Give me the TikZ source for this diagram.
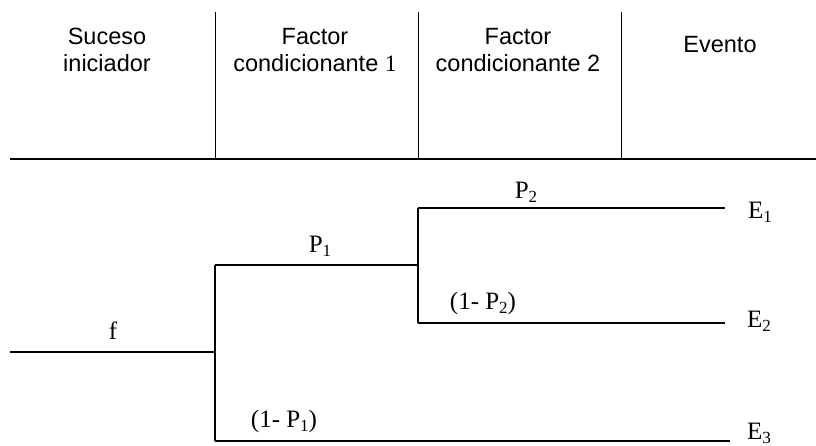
\documentclass[tikz,border=0pt]{standalone}
\usepackage{fontspec}
\setmainfont{Liberation Serif}
\setsansfont{Liberation Sans}
\usepackage{tikz}

\newcommand{\idx}[1]{\raisebox{-0.35ex}{\fontsize{17}{17}\selectfont #1}}

\tikzset{
  col/.style={font=\sffamily\fontsize{23.5}{27}\selectfont, align=center, inner sep=0pt},
  lbl/.style={font=\rmfamily\fontsize{25}{27}\selectfont, inner sep=0pt},
  branch/.style={line width=1.6pt},
}

\begin{document}
\begin{tikzpicture}[x=1pt,y=-1pt]
        \useasboundingbox (0,0) rectangle (816,446);

        % Header
        \node[col] (hsuc) at (107,50) {Suceso\\iniciador};
        \node[col] (hfc1) at (315,50) {Factor\\condicionante {\rmfamily 1}};
        \node[col] (hfc2) at (518,50) {Factor\\condicionante 2};
        \node[col] (hevt) at (720,45) {Evento};

        \coordinate (hl) at (10,159);
        \coordinate (hr) at (816,159);
        \coordinate (d1t) at (215,12);
        \coordinate (d1b) at (215,159);
        \coordinate (d2t) at (418,12);
        \coordinate (d2b) at (418,159);
        \coordinate (d3t) at (621,12);
        \coordinate (d3b) at (621,159);

        \draw[branch] (hl) -- (hr);
        \draw[line width=1pt] (d1t) -- (d1b);
        \draw[line width=1pt] (d2t) -- (d2b);
        \draw[line width=1pt] (d3t) -- (d3b);

        % Nodes
        \coordinate (f0) at (10,352);
        \coordinate (a) at (215,352);
        \coordinate (a1) at (215,265);
        \coordinate (a2) at (215,441);
        \coordinate (b) at (418,265);
        \coordinate (b1) at (418,208);
        \coordinate (b2) at (418,323);
        \coordinate (e1) at (725,208);
        \coordinate (e2) at (725,323);
        \coordinate (e3) at (730,441);

        \node[lbl] (E1) at (760,212) {E\idx{1}};
        \node[lbl] (E2) at (759,321) {E\idx{2}};
        \node[lbl] (E3) at (759,433) {E\idx{3}};

        % Edges
        \draw[branch] (f0) -- (a);
        \draw[branch] (a1) -- (a2);
        \draw[branch] (a1) -- (b);
        \draw[branch] (b1) -- (b2);
        \draw[branch] (b1) -- (e1);
        \draw[branch] (b2) -- (e2);
        \draw[branch] (a2) -- (e3);

        % Labels
        \node[lbl] (lf) at (113,331) {f};
        \node[lbl] (lp1) at (320,246) {P\idx{1}};
        \node[lbl] (lp2) at (526,192) {P\idx{2}};
        \node[lbl] (lq2) at (483,303) {(1- P\idx{2})};
        \node[lbl] (lq1) at (284,421) {(1- P\idx{1})};
    \end{tikzpicture}
\end{document}
